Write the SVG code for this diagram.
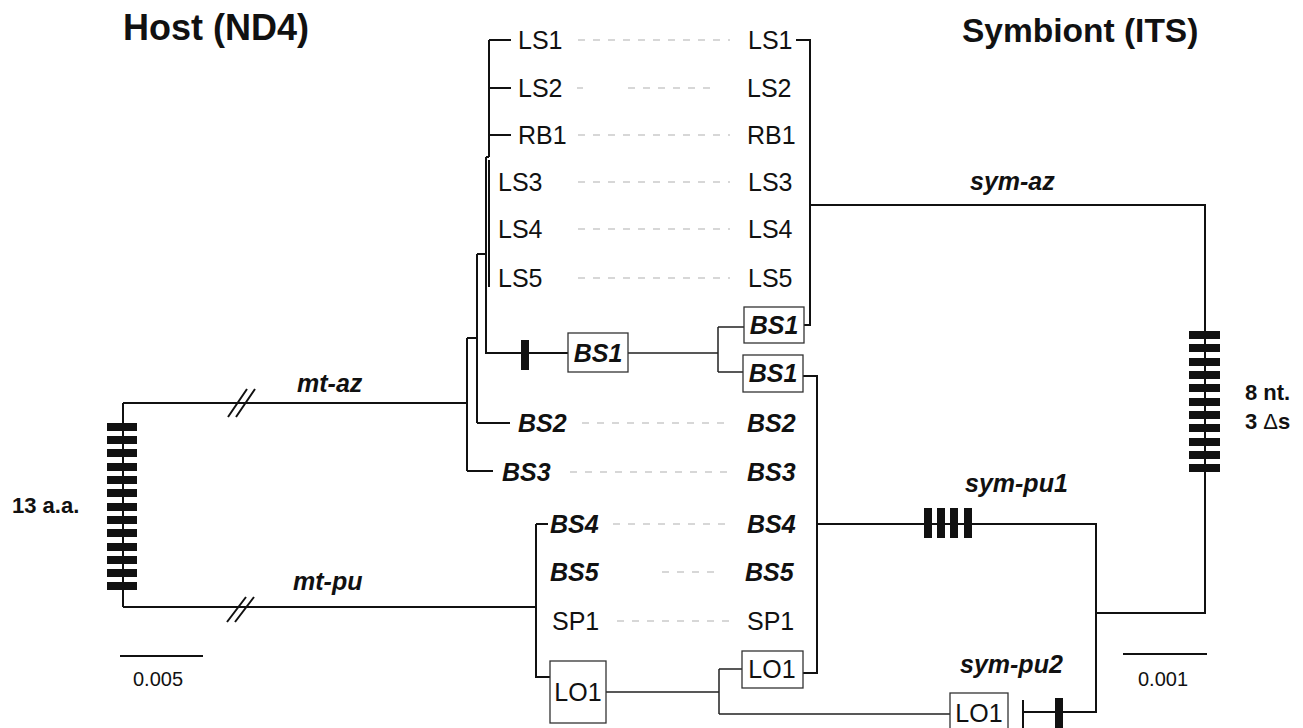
<svg xmlns="http://www.w3.org/2000/svg" width="1303" height="728" viewBox="0 0 1303 728">
<style>
text{font-family:"Liberation Sans",Arial,sans-serif;fill:#111}
.tip{font-size:25px}
.bi{font-size:25px;font-weight:bold;font-style:italic}
.title{font-size:36px;font-weight:bold}
.ann{font-size:22px;font-weight:bold}
.sc{font-size:20px}
.ln{fill:none;stroke:#111;stroke-width:2}
.thin{fill:none;stroke:#222;stroke-width:1.5}
.dash{stroke:#b0b0b0;stroke-width:1.2;stroke-dasharray:7 8;fill:none}
.box{fill:#fff;stroke:#333;stroke-width:1.3}
.bar{fill:#111}
</style>
<rect width="1303" height="728" fill="#fff"/>

<g id="titles">
<text class="title" x="123" y="40">Host (ND4)</text>
<text class="title" x="962" y="42" style="font-size:33.5px">Symbiont (ITS)</text>
</g>

<g id="connectors">
<!-- host tree -->
<path class="ln" d="M123 403 H467 M123 403 V607 M123 607 H536"/>
<path class="ln" d="M467 338 V471 M467 338 H477 M467 471 H493"/>
<path class="ln" d="M477 254 V423 M477 254 H486 M477 423 H510"/>
<path class="ln" d="M486 157 V353 H568 M486 157 H489"/>
<path class="ln" d="M489 40 V157 M489 40 H511 M489 88 H511 M489 135 H511"/>
<path class="ln" d="M489 160 V287"/>
<path class="ln" d="M536 524 V677 H550 M536 524 H548"/>
<!-- break marks -->
<path class="ln" d="M228 417 L247 389 M236 417 L255 389"/>
<path class="ln" d="M227 622 L246 597 M235 622 L254 597"/>
<!-- symbiont tree -->
<path class="ln" d="M796 40 H810 V325 H804"/>
<path class="ln" d="M810 205 H1205 V613 H1096"/>
<path class="thin" d="M628 353 H718 M718 327 V372 M718 327 H744 M718 372 H743"/>
<path class="ln" d="M803 376 H817 V673 H803"/>
<path class="ln" d="M817 524 H1096 V712 H1023 M1023 700 V730"/>
<path class="thin" d="M606 692 H719 M719 669 V714 M719 669 H742 M719 714 H950"/>
<!-- scale bars -->
<path class="ln" d="M120 656 H203"/>
<path class="ln" d="M1123 654 H1207"/>
<!-- correspondence dotted lines -->
<path class="dash" d="M578 40 H730 M577 88 H583 M628 88 H712 M578 135 H730 M578 182 H730 M578 229 H730 M578 278 H730 M582 423 H730 M570 472 H730 M613 524 H730 M662 572 H717 M617 621 H730"/>
</g>

<g id="changes">
<g id="host-root-bars">
<rect class="bar" x="107" y="423" width="30" height="8"/>
<rect class="bar" x="107" y="436" width="30" height="8"/>
<rect class="bar" x="107" y="449" width="30" height="8"/>
<rect class="bar" x="107" y="463" width="30" height="8"/>
<rect class="bar" x="107" y="476" width="30" height="8"/>
<rect class="bar" x="107" y="489" width="30" height="8"/>
<rect class="bar" x="107" y="503" width="30" height="8"/>
<rect class="bar" x="107" y="516" width="30" height="8"/>
<rect class="bar" x="107" y="529" width="30" height="8"/>
<rect class="bar" x="107" y="543" width="30" height="8"/>
<rect class="bar" x="107" y="556" width="30" height="8"/>
<rect class="bar" x="107" y="569" width="30" height="8"/>
<rect class="bar" x="107" y="582" width="30" height="8"/>
</g>
<g id="sym-root-bars">
<rect class="bar" x="1189" y="331" width="31" height="8"/>
<rect class="bar" x="1189" y="344" width="31" height="8"/>
<rect class="bar" x="1189" y="358" width="31" height="8"/>
<rect class="bar" x="1189" y="371" width="31" height="8"/>
<rect class="bar" x="1189" y="384" width="31" height="8"/>
<rect class="bar" x="1189" y="398" width="31" height="8"/>
<rect class="bar" x="1189" y="411" width="31" height="8"/>
<rect class="bar" x="1189" y="424" width="31" height="8"/>
<rect class="bar" x="1189" y="438" width="31" height="8"/>
<rect class="bar" x="1189" y="451" width="31" height="8"/>
<rect class="bar" x="1189" y="464" width="31" height="8"/>
</g>
<g id="pu1-bars">
<rect class="bar" x="924" y="508" width="8" height="30"/>
<rect class="bar" x="937" y="508" width="8" height="30"/>
<rect class="bar" x="950" y="508" width="8" height="30"/>
<rect class="bar" x="964" y="508" width="8" height="30"/>
</g>
<rect id="bs1-bar" class="bar" x="521" y="340" width="8" height="30"/>
<rect id="pu2-bar" class="bar" x="1055" y="698" width="8" height="32"/>
</g>

<g id="host-tips">
<g id="h-LS1"><text class="tip" x="518" y="49">LS1</text></g>
<g id="h-LS2"><text class="tip" x="518" y="97">LS2</text></g>
<g id="h-RB1"><text class="tip" x="518" y="144">RB1</text></g>
<g id="h-LS3"><text class="tip" x="498" y="191">LS3</text></g>
<g id="h-LS4"><text class="tip" x="498" y="238">LS4</text></g>
<g id="h-LS5"><text class="tip" x="498" y="287">LS5</text></g>
<g id="h-BS1"><rect class="box" x="568" y="333" width="60" height="39"/><text class="bi" x="598" y="362" text-anchor="middle">BS1</text></g>
<g id="h-BS2"><text class="bi" x="518" y="432">BS2</text></g>
<g id="h-BS3"><text class="bi" x="502" y="481">BS3</text></g>
<g id="h-BS4"><text class="bi" x="550" y="533">BS4</text></g>
<g id="h-BS5"><text class="bi" x="550" y="581">BS5</text></g>
<g id="h-SP1"><text class="tip" x="552" y="630">SP1</text></g>
<g id="h-LO1"><rect class="box" x="550" y="661" width="56" height="62"/><text class="tip" x="578" y="701" text-anchor="middle">LO1</text></g>
</g>

<g id="sym-tips">
<g id="s-LS1"><text class="tip" x="748" y="49">LS1</text></g>
<g id="s-LS2"><text class="tip" x="747" y="97">LS2</text></g>
<g id="s-RB1"><text class="tip" x="747" y="144">RB1</text></g>
<g id="s-LS3"><text class="tip" x="748" y="191">LS3</text></g>
<g id="s-LS4"><text class="tip" x="748" y="238">LS4</text></g>
<g id="s-LS5"><text class="tip" x="748" y="287">LS5</text></g>
<g id="s-BS1a"><rect class="box" x="744" y="307" width="60" height="36"/><text class="bi" x="774" y="334" text-anchor="middle">BS1</text></g>
<g id="s-BS1b"><rect class="box" x="743" y="355" width="60" height="37"/><text class="bi" x="773" y="382" text-anchor="middle">BS1</text></g>
<g id="s-BS2"><text class="bi" x="747" y="432">BS2</text></g>
<g id="s-BS3"><text class="bi" x="747" y="481">BS3</text></g>
<g id="s-BS4"><text class="bi" x="747" y="533">BS4</text></g>
<g id="s-BS5"><text class="bi" x="745" y="581">BS5</text></g>
<g id="s-SP1"><text class="tip" x="747" y="630">SP1</text></g>
<g id="s-LO1a"><rect class="box" x="742" y="651" width="61" height="37"/><text class="tip" x="772" y="678" text-anchor="middle">LO1</text></g>
<g id="s-LO1b"><rect class="box" x="950" y="693" width="58" height="40"/><text class="tip" x="979" y="722" text-anchor="middle">LO1</text></g>
</g>

<g id="branch-labels">
<text class="bi" x="297" y="392">mt-az</text>
<text class="bi" x="293" y="590">mt-pu</text>
<text class="bi" x="970" y="190">sym-az</text>
<text class="bi" x="965" y="492">sym-pu1</text>
<text class="bi" x="960" y="673">sym-pu2</text>
</g>

<g id="annotations">
<text class="ann" x="12" y="513">13 a.a.</text>
<text class="ann" x="1245" y="400">8 nt.</text>
<text class="ann" x="1245" y="429">3 <tspan style="font-weight:normal">Δ</tspan>s</text>
<text class="sc" x="133" y="686">0.005</text>
<text class="sc" x="1138" y="686">0.001</text>
</g>
</svg>
